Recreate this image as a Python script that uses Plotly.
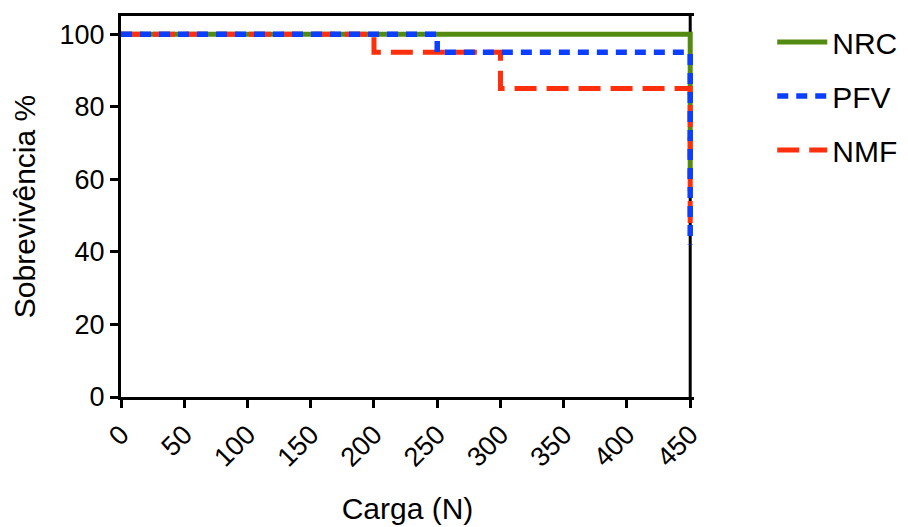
import plotly.graph_objects as go

# Kaplan-Meier style survival data (time in N, survival in %)
nrc_x = [0, 450]
nrc_y = [100, 60]
pfv_x = [0, 250, 450]
pfv_y = [100, 95, 42]
nmf_x = [0, 200, 300, 450]
nmf_y = [100, 95, 85, 45]

x_ticks = [0, 50, 100, 150, 200, 250, 300, 350, 400, 450]
y_ticks = [0, 20, 40, 60, 80, 100]

FONT = "Arial, Liberation Sans, sans-serif"
GREEN = "#538b10"
BLUE = "#0c3eff"
RED = "#ff2e0c"

X_MAX = 450
X_PAD = 453  # a little room so the final drops at 450 are not clipped

fig = go.Figure()
fig.add_trace(go.Scatter(x=nrc_x, y=nrc_y, mode="lines", name="NRC", line_shape="hv",
                         line=dict(color=GREEN, width=5), legendgroup="a", legendrank=1))
fig.add_trace(go.Scatter(x=nmf_x, y=nmf_y, mode="lines", name="NMF", line_shape="hv",
                         line=dict(color=RED, width=5, dash="22px,10px"),
                         legendgroup="c", legendrank=3))
fig.add_trace(go.Scatter(x=pfv_x, y=pfv_y, mode="lines", name="PFV", line_shape="hv",
                         line=dict(color=BLUE, width=5.5, dash="11px,8px"),
                         legendgroup="b", legendrank=2))

axis_common = dict(showline=True, linecolor="black", linewidth=3, ticks="outside",
                   ticklen=8, tickwidth=3, tickcolor="black", showgrid=False,
                   zeroline=False, layer="below traces",
                   tickfont=dict(family=FONT, size=27, color="black"))

L = 121
right_px = 690
W = (right_px - L) * X_PAD / X_MAX
R = 908 - L - W

fig.update_layout(
    width=908, height=527,
    margin=dict(l=L, r=R, t=16, b=130, autoexpand=False),
    plot_bgcolor="white", paper_bgcolor="white",
    font=dict(family=FONT, color="black"),
    xaxis=dict(range=[0, X_PAD], tickvals=x_ticks, tickangle=-45, mirror=True,
               title=dict(text="Carga (N)", font=dict(family=FONT, size=30), standoff=27),
               **axis_common),
    yaxis=dict(range=[0, 105], tickvals=y_ticks, mirror=False,
               title=dict(text="Sobrevivência %", font=dict(family=FONT, size=30), standoff=16),
               **axis_common),
    legend=dict(x=(772 - L) / W, y=1.0, xanchor="left", yanchor="top",
                font=dict(family=FONT, size=30, color="black"),
                tracegroupgap=12, itemwidth=50, bgcolor="rgba(0,0,0,0)"),
    shapes=[dict(type="line", xref="x", yref="y", x0=X_MAX, x1=X_MAX, y0=0, y1=105,
                 line=dict(color="black", width=3), layer="below")],
)

fig.write_html("out.html")
